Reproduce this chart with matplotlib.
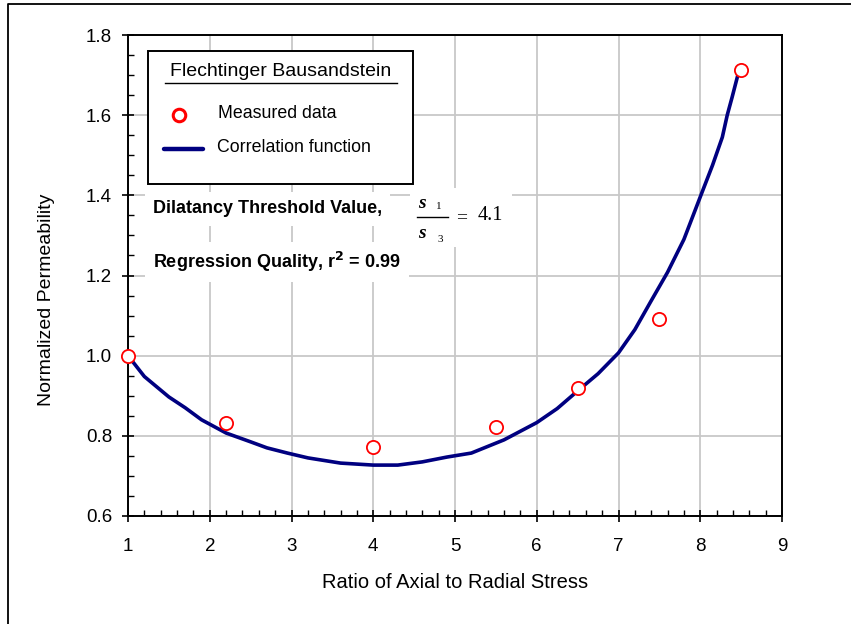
import matplotlib
matplotlib.use('Agg')
import matplotlib.pyplot as plt
from matplotlib.lines import Line2D
from matplotlib.patches import Rectangle
from matplotlib.ticker import MultipleLocator

''' DATA '''
# measured points
ratio_meas = [1.0, 2.2, 4.0, 5.5, 6.5, 7.5, 8.5]
perm_meas = [1.0, 0.832, 0.772, 0.822, 0.92, 1.091, 1.713]

# correlation function
ratio_fit = [1.0, 1.2, 1.5, 1.7, 1.9, 2.2, 2.5, 2.7, 2.95, 3.2, 3.6, 4.0, 4.3, 4.6,
             4.9, 5.2, 5.6, 6.0, 6.25, 6.5, 6.75, 7.0, 7.2, 7.4, 7.6, 7.8, 8.0,
             8.15, 8.27, 8.33, 8.39, 8.46]
perm_fit = [1.0, 0.948, 0.897, 0.87, 0.84, 0.807, 0.785, 0.77, 0.757, 0.745, 0.732,
            0.727, 0.727, 0.735, 0.747, 0.757, 0.79, 0.833, 0.868, 0.912, 0.955,
            1.007, 1.065, 1.137, 1.208, 1.29, 1.396, 1.475, 1.545, 1.6, 1.645, 1.7]

xticks = [1, 2, 3, 4, 5, 6, 7, 8, 9]
yticks = [0.6, 0.8, 1.0, 1.2, 1.4, 1.6, 1.8]

''' FIGURE '''
W, H = 851, 624
plt.rcParams['font.family'] = ['Liberation Sans', 'DejaVu Sans']
fig = plt.figure(figsize=(W / 100, H / 100), dpi=100)

def fx(x):
    return x / W

def fy(y):
    return 1 - y / H

ax = fig.add_axes([fx(128), fy(516), (782 - 128) / W, (516 - 35) / H])

ax.plot(ratio_fit, perm_fit, color='#000080', lw=2.6, zorder=3, solid_capstyle='round')
ax.plot(ratio_meas, perm_meas, ls='none', marker='o', ms=9.5, mfc='white',
        mec='#ff0000', mew=1.3, zorder=4, clip_on=False)

ax.set_xlim(1, 9)
ax.set_ylim(0.6, 1.8)
ax.set_xticks(xticks)
ax.set_yticks(yticks)
ax.set_xticklabels([str(t) for t in xticks])
ax.set_yticklabels(['%.1f' % t for t in yticks])
ax.xaxis.set_minor_locator(MultipleLocator(0.2))
ax.yaxis.set_minor_locator(MultipleLocator(0.05))
ax.tick_params(which='major', direction='inout', length=9, width=1.2, labelsize=13.5, color='black')
ax.tick_params(which='minor', direction='in', length=4.5, width=1.0, color='black')
ax.tick_params(axis='x', which='major', pad=11)
ax.tick_params(axis='y', which='major', pad=7)
ax.grid(which='major', color='#c8c8c8', lw=1.3)
ax.set_axisbelow(True)
for s in ax.spines.values():
    s.set_linewidth(1.4)
    s.set_color('black')

fig.text(fx(455), fy(582), 'Ratio of Axial to Radial Stress', fontsize=14.5, ha='center', va='center')
fig.text(fx(47), fy(300), 'Normalized Permeability', fontsize=14, ha='center', va='center', rotation=90)

''' LEGEND BOX '''
fig.add_artist(Rectangle((fx(148), fy(184)), (413 - 148) / W, (184 - 51) / H,
                         transform=fig.transFigure, facecolor='white', edgecolor='black', lw=1.4, zorder=5))
fig.text(fx(281), fy(72), 'Flechtinger Bausandstein', fontsize=14, ha='center', va='center', zorder=6)
fig.add_artist(Line2D([fx(165), fx(397)], [fy(83), fy(83)], color='black', lw=1.0, zorder=6))
fig.add_artist(Line2D([fx(179)], [fy(115)], ls='none', marker='o', ms=9, mfc='white',
                      mec='#ff0000', mew=2.2, zorder=6))
fig.text(fx(218), fy(113), 'Measured data', fontsize=12.8, ha='left', va='center', zorder=6)
fig.add_artist(Line2D([fx(164), fx(203)], [fy(149), fy(149)], color='#000080', lw=3.2,
                      solid_capstyle='round', zorder=6))
fig.text(fx(217), fy(147), 'Correlation function', fontsize=12.8, ha='left', va='center', zorder=6)

''' ANNOTATIONS '''
box = dict(facecolor='white', edgecolor='none', pad=6)
fig.text(fx(153), fy(209), 'Dilatancy Threshold Value,', fontsize=13, fontweight='bold',
         ha='left', va='center', bbox=box, zorder=6)
fig.text(fx(153), fy(262), r'Regression Quality, r$^{\mathbf{2}}$ = 0.99', fontsize=13, fontweight='bold',
         ha='left', va='center', bbox=box, zorder=6)

# fraction sigma1/sigma3 = 4.1
fig.add_artist(Rectangle((fx(410), fy(247)), (512 - 410) / W, (247 - 188) / H,
                         transform=fig.transFigure, facecolor='white', edgecolor='none', zorder=5))
serif = ['Liberation Serif', 'DejaVu Serif']
fig.text(fx(418), fy(203), 's', family=serif, style='italic', fontweight='bold', fontsize=14,
         ha='left', va='center', zorder=6)
fig.text(fx(436), fy(207), '1', family=serif, fontsize=8, ha='left', va='center', zorder=6)
fig.add_artist(Line2D([fx(417), fx(448)], [fy(217), fy(217)], color='black', lw=1.0, zorder=6))
fig.text(fx(418), fy(233), 's', family=serif, style='italic', fontweight='bold', fontsize=14,
         ha='left', va='center', zorder=6)
fig.text(fx(437), fy(239), '3', family=serif, fontsize=8, ha='left', va='center', zorder=6)
fig.text(fx(456), fy(218), '=', family=serif, fontsize=14, ha='left', va='center', zorder=6)
fig.text(fx(478), fy(216), '4.1', family=serif, fontsize=14.5, ha='left', va='center', zorder=6)

# outer frame (only left and top edges visible)
fig.add_artist(Line2D([fx(8), fx(8), fx(851)], [fy(624), fy(4), fy(4)], color='black', lw=1.3))

fig.savefig('out.png', dpi=100)
